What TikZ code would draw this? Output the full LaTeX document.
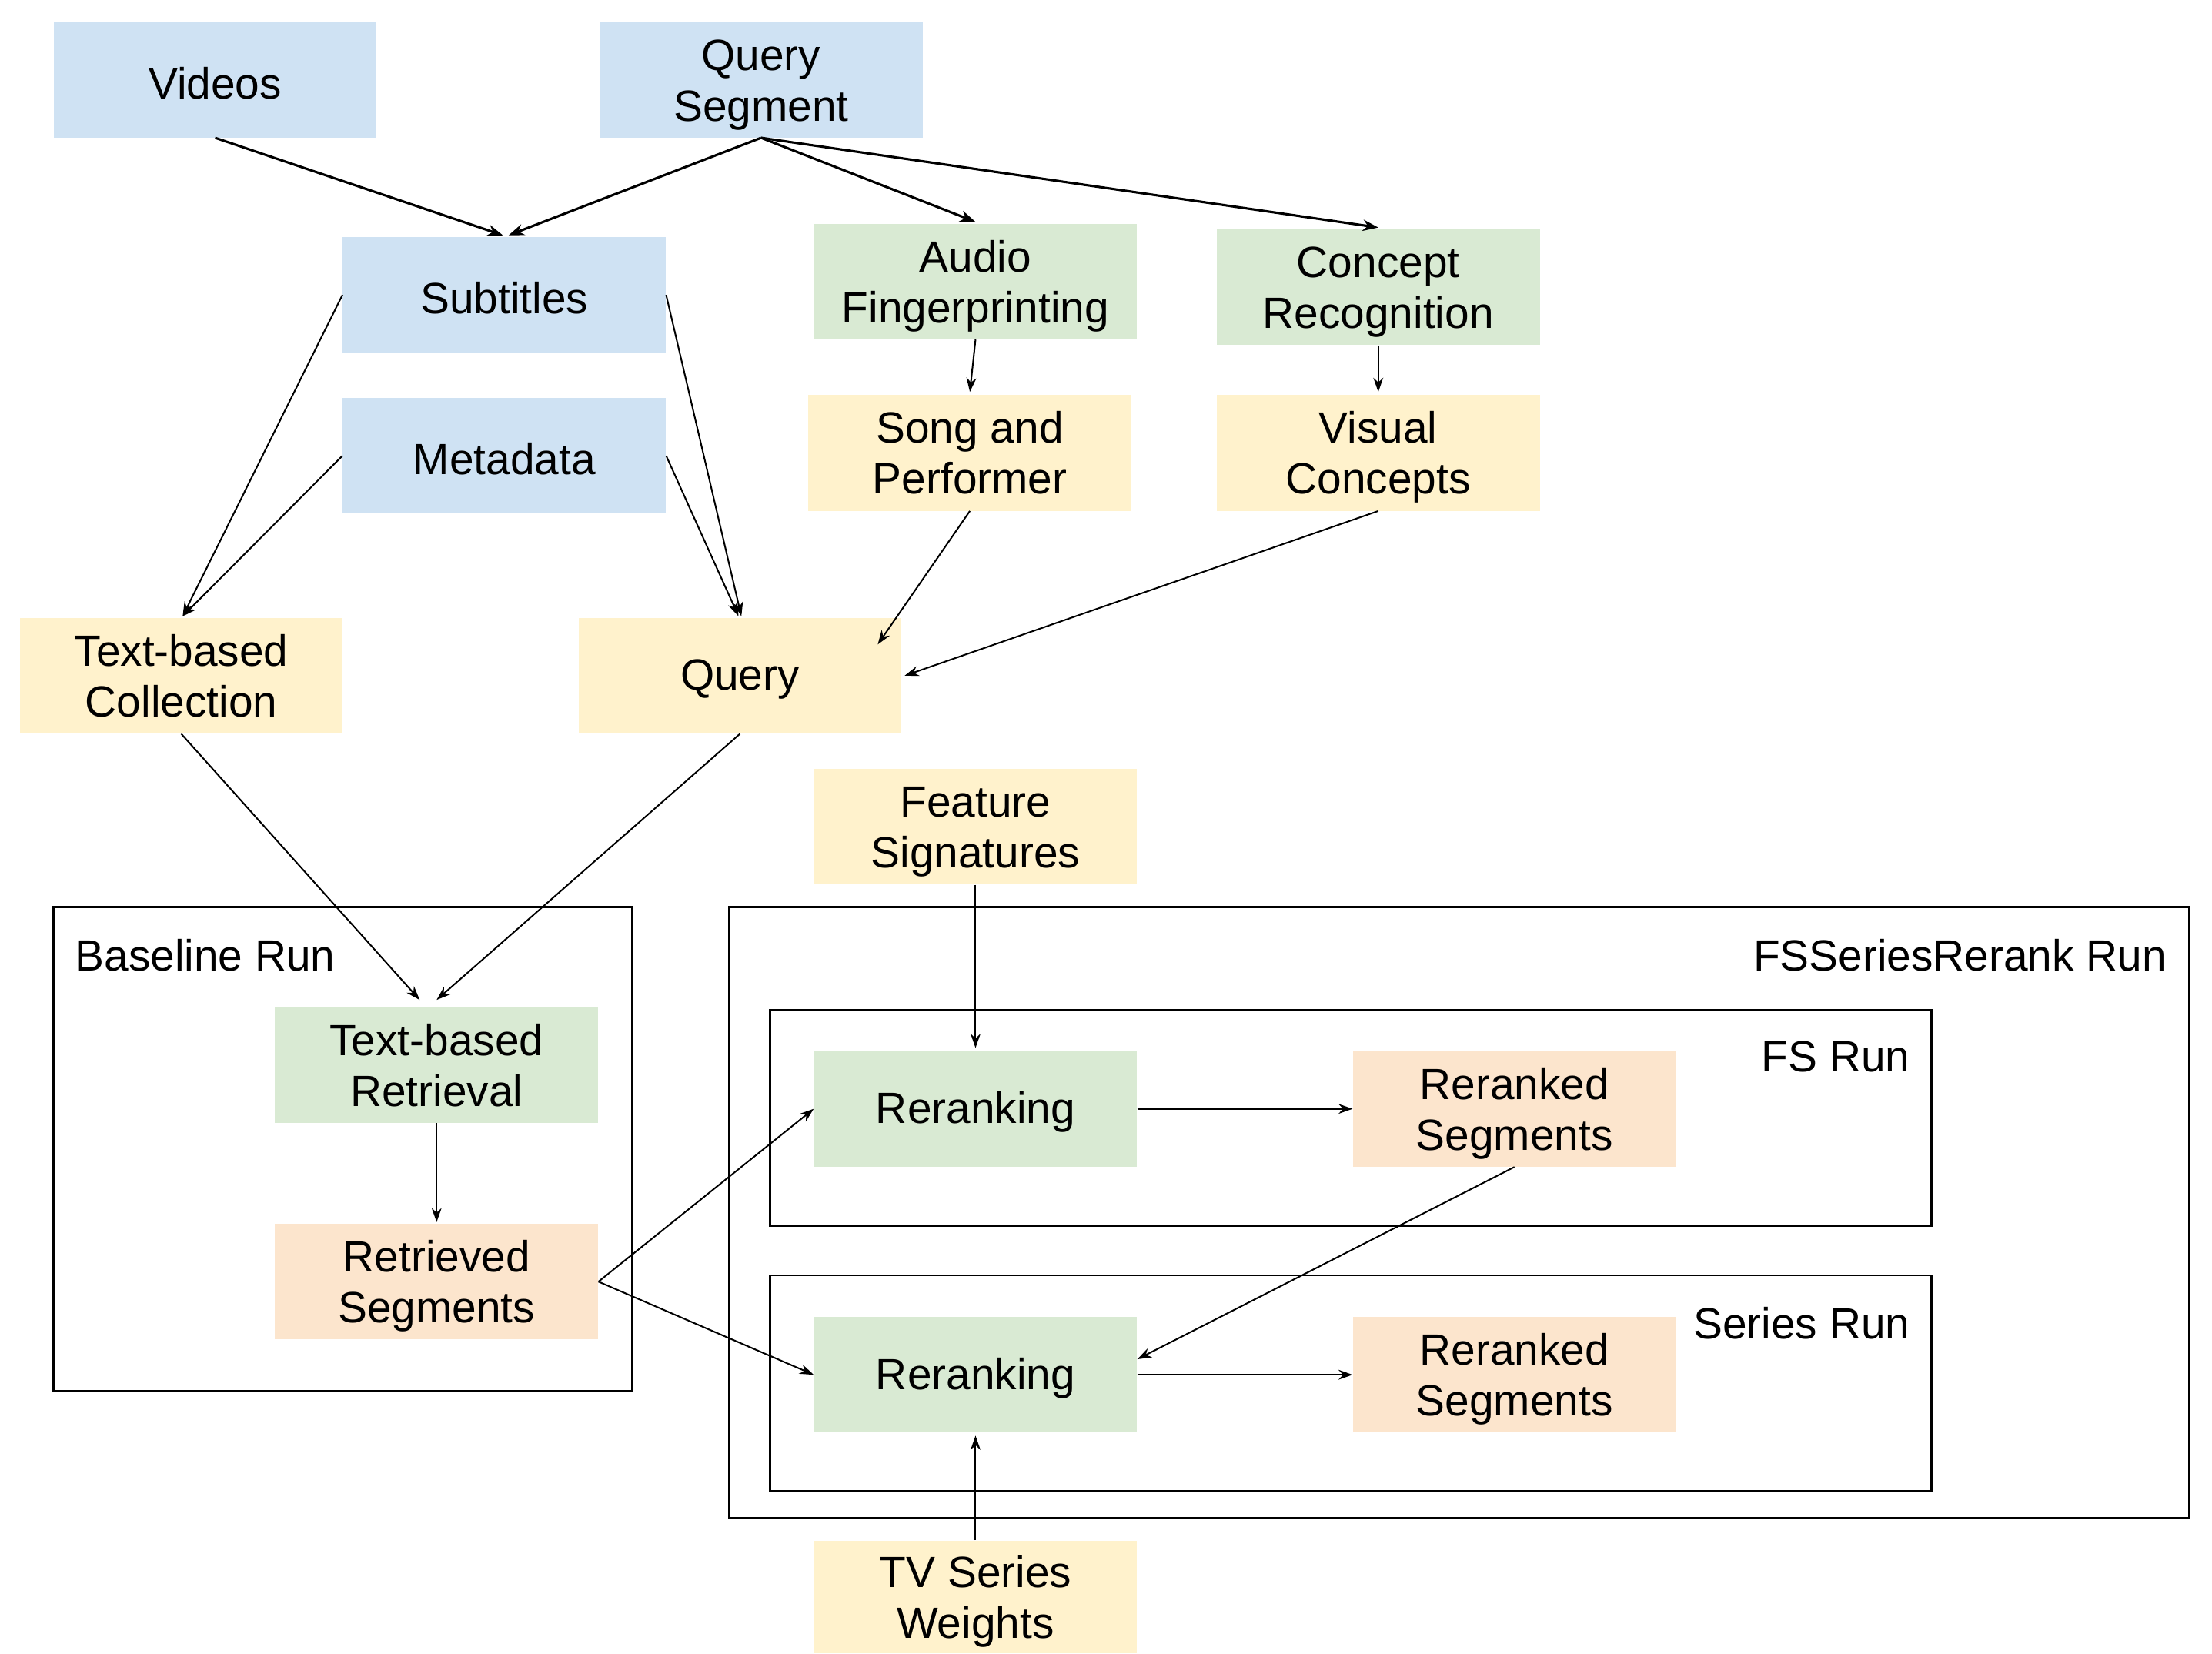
\documentclass[tikz,border=0pt]{standalone}
\usepackage{fontspec}
\setmainfont{Liberation Sans}
\usetikzlibrary{arrows.meta,calc}
\definecolor{cblue}{HTML}{CFE2F3}
\definecolor{cgreen}{HTML}{D9EAD3}
\definecolor{cyellow}{HTML}{FFF2CC}
\definecolor{corange}{HTML}{FCE5CD}
\newcommand\lowone[1]{\raisebox{-2.5pt}[\height][\depth]{#1}}
\newcommand\lowtwo[2]{\raisebox{-4pt}[\height][\depth]{\begin{tabular}{@{}c@{}}#1\\#2\end{tabular}}}
\tikzset{
  box/.style={minimum width=229pt,minimum height=82pt,inner sep=0pt,
    font=\fontsize{31}{36}\selectfont},
  bluebox/.style={box,fill=cblue},
  greenbox/.style={box,fill=cgreen},
  yellowbox/.style={box,fill=cyellow},
  orangebox/.style={box,fill=corange},
  frame/.style={draw=black,line width=1.6pt,inner sep=0pt},
  lbl/.style={inner sep=0pt,font=\fontsize{31}{36}\selectfont},
  conn/.style={line width=1.1pt,-{Stealth[length=10pt,width=7pt]}},
  thick conn/.style={line width=1.7pt,-{Stealth[length=11pt,width=8pt]}}
}
\begin{document}
\begin{tikzpicture}[x=1pt,y=-1pt]
\useasboundingbox[fill=white] (0,0) rectangle (1568,1172);
% group frames
\node[frame,minimum width=410pt,minimum height=343pt] (baseline) at (243,814.5) {};
\node[frame,minimum width=1035pt,minimum height=433pt] (fsseries) at (1034.5,859.5) {};
\node[frame,minimum width=823pt,minimum height=153pt] (fsrun) at (957.5,792.5) {};
\node[frame,minimum width=823pt,minimum height=153pt] (seriesrun) at (957.5,980.5) {};
\node[lbl,anchor=west] (lbase) at (53,677) {Baseline Run};
\node[lbl,anchor=east] (lfss) at (1536,677) {FSSeriesRerank Run};
\node[lbl,anchor=east] (lfs) at (1354,749) {FS Run};
\node[lbl,anchor=east] (lser) at (1354,938) {Series Run};
% nodes
\node[bluebox] (videos) at (152.5,56.5) {\lowone{Videos}};
\node[bluebox] (qseg) at (539.5,56.5) {\lowtwo{Query}{Segment}};
\node[bluebox] (subt) at (357.5,209) {\lowone{Subtitles}};
\node[bluebox] (meta) at (357.5,323) {\lowone{Metadata}};
\node[greenbox] (audio) at (691.5,199.5) {\lowtwo{Audio}{Fingerprinting}};
\node[greenbox] (concept) at (977,203.5) {\lowtwo{Concept}{Recognition}};
\node[yellowbox] (song) at (687.5,321) {\lowtwo{Song and}{Performer}};
\node[yellowbox] (visual) at (977,321) {\lowtwo{Visual}{Concepts}};
\node[yellowbox] (tbc) at (128.5,479) {\lowtwo{Text-based}{Collection}};
\node[yellowbox] (query) at (524.5,479) {\lowone{Query}};
\node[yellowbox] (feat) at (691.5,586) {\lowtwo{Feature}{Signatures}};
\node[greenbox] (tbr) at (309.5,755) {\lowtwo{Text-based}{Retrieval}};
\node[orangebox] (retr) at (309.5,908.5) {\lowtwo{Retrieved}{Segments}};
\node[greenbox] (rr1) at (691.5,786) {\lowone{Reranking}};
\node[orangebox] (rs1) at (1073.5,786) {\lowtwo{Reranked}{Segments}};
\node[greenbox] (rr2) at (691.5,974.5) {\lowone{Reranking}};
\node[orangebox] (rs2) at (1073.5,974.5) {\lowtwo{Reranked}{Segments}};
\node[yellowbox,minimum height=80pt] (tvw) at (691.5,1132) {\lowtwo{TV Series}{Weights}};
% connectors
\draw[thick conn] (videos.south) -- ([shift={(-1,-1)}]subt.north);
\draw[thick conn] (qseg.south) -- ([shift={(3,-1)}]subt.north);
\draw[thick conn] (qseg.south) -- ([shift={(0,-1)}]audio.north);
\draw[thick conn] (qseg.south) -- ([shift={(0,-1)}]concept.north);
\draw[conn] (subt.west) -- ([shift={(1,-1)}]tbc.north);
\draw[conn] (meta.west) -- ([shift={(1,-1)}]tbc.north);
\draw[conn] (subt.east) -- ([shift={(1,-1)}]query.north);
\draw[conn] (meta.east) -- ([shift={(-1,-1)}]query.north);
\draw[conn] (audio.south) -- ([shift={(0,-2)}]song.north);
\draw[conn] (concept.south) -- ([shift={(0,-2)}]visual.north);
\draw[conn] (song.south) -- ([shift={(-17,19)}]query.north east);
\draw[conn] (visual.south) -- ([shift={(2,0)}]query.east);
\draw[conn] (tbc.south) -- ([shift={(-12,-5)}]tbr.north);
\draw[conn] (query.south) -- ([shift={(0,-5)}]tbr.north);
\draw[conn] (tbr.south) -- ([shift={(0,-1)}]retr.north);
\draw[conn] (retr.east) -- (rr1.west);
\draw[conn] (retr.east) -- (rr2.west);
\draw[conn] (feat.south) -- ([shift={(0,-2)}]rr1.north);
\draw[conn] (rr1.east) -- (rs1.west);
\draw[conn] (rs1.south) -- ([shift={(0,-11)}]rr2.east);
\draw[conn] (rr2.east) -- (rs2.west);
\draw[conn] (tvw.north) -- ([shift={(0,2)}]rr2.south);
\end{tikzpicture}
\end{document}
